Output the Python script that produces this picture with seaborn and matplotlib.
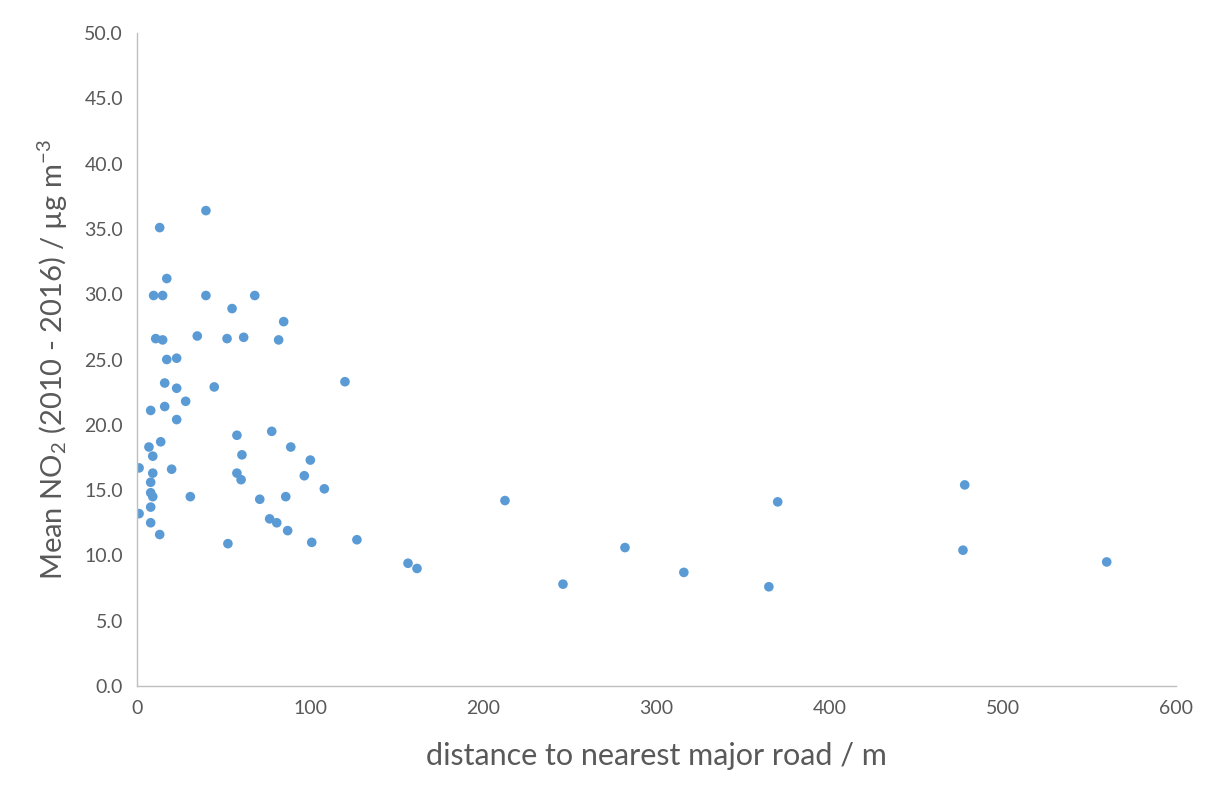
import seaborn as sns
import matplotlib.pyplot as plt
import pandas as pd
from matplotlib.ticker import FormatStrFormatter

sns.set_style("white")
plt.rcParams['font.family'] = ['Lato', 'DejaVu Sans']
plt.rcParams['mathtext.fontset'] = 'custom'
plt.rcParams['mathtext.rm'] = 'Lato'
plt.rcParams['mathtext.it'] = 'Lato'

# distance to nearest major road (m)
distance = [1.2, 1.2, 13.1, 39.8, 17.2, 9.6, 14.8, 39.8, 54.9, 68.0,
            84.7, 10.8, 14.8, 34.8, 52.0, 61.6, 81.8, 17.2, 22.9, 16.0,
            22.9, 44.6, 28.1, 7.9, 16.0, 22.9, 120.1, 13.7, 6.9, 9.1,
            57.7, 77.8, 60.6, 88.8, 100.1, 9.1, 20.0, 57.7, 60.1, 96.6,
            7.9, 7.9, 9.1, 30.8, 70.9, 85.9, 108.2, 7.9, 7.9, 13.1,
            76.6, 80.7, 87.0, 52.5, 100.9, 127.0, 156.5, 161.7, 212.5, 246.0,
            281.8, 315.8, 364.9, 370.0, 478.0, 477.0, 560.0]
# mean NO2 2010-2016 (ug m-3)
no2 = [16.7, 13.2, 35.1, 36.4, 31.2, 29.9, 29.9, 29.9, 28.9, 29.9,
       27.9, 26.6, 26.5, 26.8, 26.6, 26.7, 26.5, 25.0, 25.1, 23.2,
       22.8, 22.9, 21.8, 21.1, 21.4, 20.4, 23.3, 18.7, 18.3, 17.6,
       19.2, 19.5, 17.7, 18.3, 17.3, 16.3, 16.6, 16.3, 15.8, 16.1,
       15.6, 14.8, 14.5, 14.5, 14.3, 14.5, 15.1, 13.7, 12.5, 11.6,
       12.8, 12.5, 11.9, 10.9, 11.0, 11.2, 9.4, 9.0, 14.2, 7.8,
       10.6, 8.7, 7.6, 14.1, 15.4, 10.4, 9.5]

df = pd.DataFrame({"distance": distance, "no2": no2})

fig = plt.figure(figsize=(12.06, 7.93), dpi=100)
ax = fig.add_axes([0.1136, 0.1349, 0.8615, 0.8235])

sns.scatterplot(data=df, x="distance", y="no2", color="#5B9BD5",
                s=48, edgecolor="none", ax=ax)

ax.set_xlim(0, 600)
ax.set_ylim(0, 50)
ax.set_xticks(range(0, 601, 100))
ax.set_yticks([i * 5 for i in range(11)])
ax.yaxis.set_major_formatter(FormatStrFormatter('%.1f'))
ax.tick_params(axis='both', labelsize=14, colors="#595959", length=0, pad=10)

for side in ["top", "right"]:
    ax.spines[side].set_visible(False)
for side in ["left", "bottom"]:
    ax.spines[side].set_color("#BFBFBF")
    ax.spines[side].set_linewidth(1)

ax.set_xlabel("distance to nearest major road / m", fontsize=22, color="#595959", labelpad=18)
ax.set_ylabel("Mean NO$_2$ (2010 - 2016) / µg m$^{-3}$", fontsize=21, color="#595959", labelpad=10)

plt.savefig("out.png", dpi=100)
